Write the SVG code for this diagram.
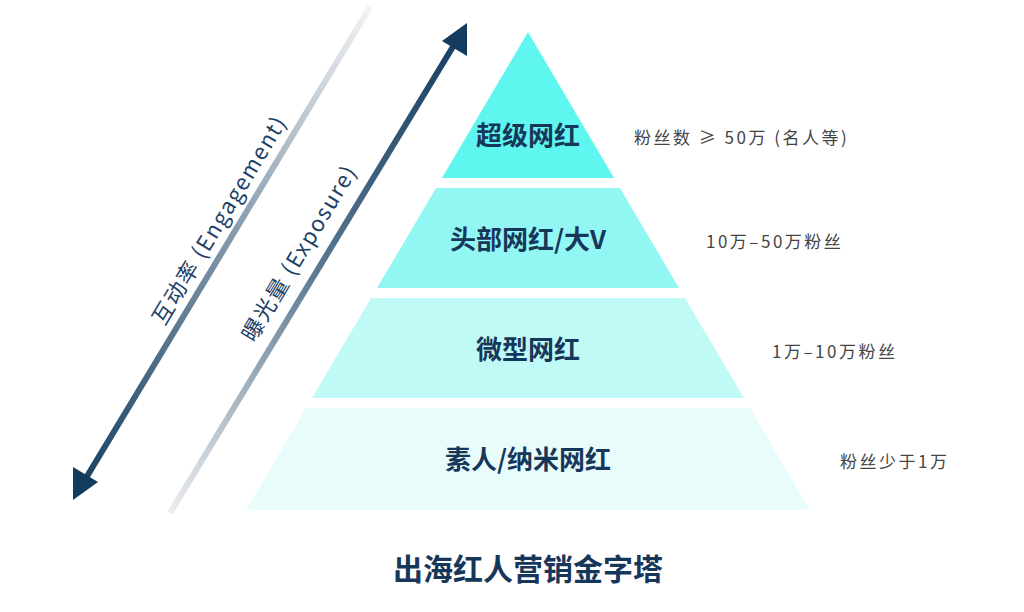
<svg xmlns="http://www.w3.org/2000/svg" width="1024" height="612" viewBox="0 0 1024 612">
<style>
.lv{font-family:"Noto Sans CJK SC","Noto Sans",sans-serif;font-weight:bold;font-size:26px;fill:#17375a;text-anchor:middle}
.rt{font-family:"Noto Sans CJK SC","Noto Sans",sans-serif;font-size:17px;fill:#444;letter-spacing:2.5px}
.ax{font-family:"Noto Sans CJK SC","Noto Sans",sans-serif;font-size:22px;fill:#1d4166;text-anchor:middle;letter-spacing:1.5px}
</style>
<defs>
<linearGradient id="g1" gradientUnits="userSpaceOnUse" x1="73" y1="500" x2="370" y2="7"><stop offset="0" stop-color="#123b5e"/><stop offset="0.5" stop-color="#7d93a6"/><stop offset="1" stop-color="#f2f3f4"/></linearGradient>
<linearGradient id="g2" gradientUnits="userSpaceOnUse" x1="170" y1="513" x2="467" y2="23"><stop offset="0" stop-color="#eceef0"/><stop offset="0.5" stop-color="#5a7790"/><stop offset="1" stop-color="#123b5e"/></linearGradient>
</defs>
<g id="connectors">
<line x1="86" y1="478" x2="370" y2="7" stroke="url(#g1)" stroke-width="6"/>
<path d="M73,500 L73,467 L98,482Z" fill="#133b5d"/>
<line x1="170" y1="513" x2="454" y2="45" stroke="url(#g2)" stroke-width="6"/>
<path d="M467,23 L467,56 L442,41Z" fill="#133b5d"/>
</g>
<text class="ax" transform="translate(226,224) rotate(-59)">互动率 (Engagement)</text>
<text class="ax" transform="translate(306,257) rotate(-59)">曝光量 (Exposure)</text>
<g id="l1"><polygon points="528,32 614,178 442,178" fill="#5ff6f0"/><text class="lv" x="528" y="145">超级网红</text></g>
<g id="l2"><polygon points="436,188 620,188 679,288 377,288" fill="#92f7f3"/><text class="lv" x="528" y="249">头部网红/大V</text></g>
<g id="l3"><polygon points="371,298 685,298 744,398 312,398" fill="#c0faf7"/><text class="lv" x="528" y="359">微型网红</text></g>
<g id="l4"><polygon points="306,408 750,408 810,510 246,510" fill="#e9fcfc"/><text class="lv" x="528" y="469">素人/纳米网红</text></g>
<text class="rt" x="634" y="144">粉丝数 ≥ 50万 (名人等)</text>
<text class="rt" x="706" y="248">10万–50万粉丝</text>
<text class="rt" x="772" y="358">1万–10万粉丝</text>
<text class="rt" x="840" y="468">粉丝少于1万</text>
<text class="lv" x="528" y="580" style="font-size:30px">出海红人营销金字塔</text>
</svg>
